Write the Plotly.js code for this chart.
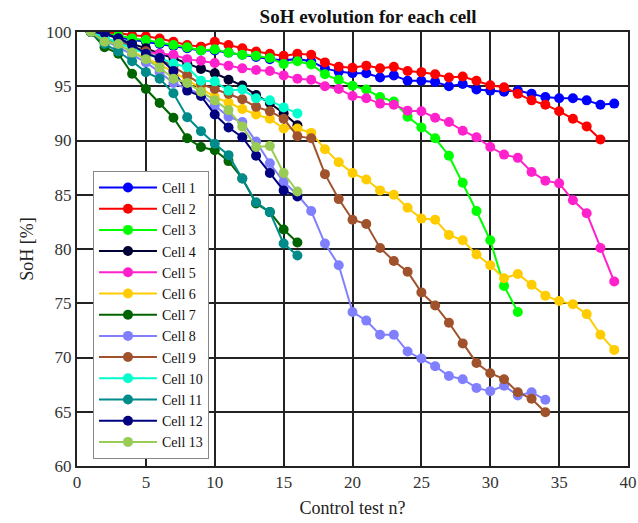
<!DOCTYPE html>
<html>
<head>
<meta charset="utf-8">
<script src="https://cdn.plot.ly/plotly-3.0.1.min.js"></script>
<style>html,body{margin:0;padding:0;background:#fff;}#chart{width:638px;height:523px;}</style>
</head>
<body>
<div id="chart"></div>
<script>
const cellNames = ["Cell 1","Cell 2","Cell 3","Cell 4","Cell 5","Cell 6","Cell 7","Cell 8","Cell 9","Cell 10","Cell 11","Cell 12","Cell 13"];
const cellColors = ["#0000ff","#ff0000","#00ff00","#000033","#ff22cc","#ffcc00","#006400","#8080ff","#a0522d","#00ffcc","#008b8b","#000080","#99cc55"];

const cell1 = [100,99.8,99.5,99.3,99.1,98.9,98.7,98.5,98.3,98.3,98.1,97.9,97.7,97.5,97.4,97.5,97.3,96.65,96.35,96.2,96.2,95.8,96.0,95.5,95.5,95.4,95.0,95.2,94.7,94.6,94.5,94.6,94.3,94.0,93.9,93.9,93.7,93.3,93.4];
const cell2 = [100,99.9,99.9,99.7,99.6,99.4,99.1,98.8,98.65,99.1,98.8,98.5,98.2,98.0,97.8,98.0,97.9,97.2,96.8,96.7,96.9,96.65,96.8,96.4,96.3,96.1,95.8,95.9,95.5,95.1,94.9,94.3,93.7,93.3,92.7,92.0,91.3,90.1];
const cell3 = [100,99.8,99.7,99.4,99.26,99.0,98.8,98.6,98.3,98.4,98.1,97.9,97.8,97.6,97.05,97.3,97.0,96.1,95.6,95.05,94.7,94.0,93.6,92.2,91.2,90.2,88.6,86.1,83.5,80.8,76.6,74.2];
const cell4 = [100,99.8,99.4,98.9,98.5,98.0,97.6,97.1,96.6,96.2,95.6,95.06,94.2,93.45,92.5,91.4];
const cell5 = [100,99.4,99.0,98.6,98.2,98.0,97.9,97.5,97.35,97.15,96.9,96.65,96.5,96.4,96.0,95.7,95.6,95.0,94.75,94.1,93.9,93.4,93.3,92.75,92.7,92.1,91.7,90.9,90.3,89.4,88.7,88.4,87.1,86.3,86.05,84.5,83.3,80.1,77.0];
const cell6 = [100,99.3,98.8,98.2,97.6,97.0,96.3,95.6,94.8,94.0,93.5,92.9,92.4,92.0,91.1,91.1,90.7,89.2,88.0,87.0,86.4,85.4,85.0,83.8,82.8,82.7,81.3,80.8,79.5,78.5,77.3,77.7,76.7,75.7,75.2,74.9,74.0,72.1,70.7];
const cell7 = [100,98.6,98.0,96.15,94.75,93.45,92.1,90.2,89.4,89.1,88.1,86.5,84.2,83.4,81.8,80.6];
const cell8 = [100,99.2,98.6,97.9,97.2,96.3,95.3,94.75,94.3,93.2,92.2,91.7,89.9,87.9,86.2,85.0,83.5,80.5,78.5,74.2,73.4,72.1,72.1,70.55,69.9,69.2,68.3,68.0,67.2,66.9,67.4,66.5,66.8,66.1];
const cell9 = [100,99.3,99.1,98.7,98.2,97.5,96.8,96.0,95.2,94.75,94.3,93.8,93.1,92.7,92.0,90.4,90.2,86.9,84.6,82.7,82.3,80.1,78.9,77.9,76.0,74.8,73.2,71.3,69.5,68.55,68.0,66.8,66.2,64.95];
const cell10 = [100,99.5,99.0,98.5,98.0,97.6,97.1,96.75,95.5,95.45,94.6,94.7,93.9,93.7,93.05,92.5];
const cell11 = [100,98.9,98.2,97.3,96.3,95.7,94.35,92.15,90.85,89.7,88.65,86.5,84.3,83.4,80.5,79.4];
const cell12 = [100,99.9,99.4,98.8,98.0,97.6,96.4,94.6,94.1,92.4,91.2,90.3,88.6,87.0,85.4,84.85];
const cell13 = [100,99.1,98.9,98.1,97.5,96.7,95.7,95.3,94.5,93.7,92.8,91.3,89.4,89.5,87.0,85.3];

const allCells = [cell1,cell2,cell3,cell4,cell5,cell6,cell7,cell8,cell9,cell10,cell11,cell12,cell13];
const xTicks = [0,5,10,15,20,25,30,35,40];
const yTicks = [60,65,70,75,80,85,90,95,100];

const traces = allCells.map((vals, i) => ({
  type: 'scatter',
  mode: 'lines+markers',
  name: cellNames[i],
  x: vals.map((v, k) => k + 1),
  y: vals,
  line: {color: cellColors[i], width: 2},
  marker: {color: cellColors[i], size: 10}
}));

const fontFam = '"Liberation Serif", "DejaVu Serif", serif';
const layout = {
  width: 638, height: 523,
  margin: {l: 77, r: 10, t: 32, b: 57},
  paper_bgcolor: '#fff', plot_bgcolor: '#fff',
  font: {family: fontFam, color: '#222', size: 15},
  title: {text: '<b>SoH evolution for each cell</b>', x: 0.577, xanchor: 'center', y: 0.968, yanchor: 'middle', font: {family: fontFam, size: 19, color: '#111'}},
  showlegend: true,
  legend: {
    x: 0.029, y: 0.68, xanchor: 'left', yanchor: 'top',
    bgcolor: '#fff', bordercolor: '#888', borderwidth: 1,
    font: {family: fontFam, size: 14, color: '#111'},
    itemwidth: 58, tracegroupgap: 0
  },
  xaxis: {
    range: [0, 40], tickvals: xTicks, ticktext: xTicks.map(String),
    showgrid: true, gridcolor: '#222', gridwidth: 2,
    showline: true, linecolor: '#222', linewidth: 2, mirror: true,
    zeroline: false, ticks: '', tickfont: {size: 17, color: '#333'},
    title: {text: 'Control test n?', font: {size: 18, color: '#222'}, standoff: 10}
  },
  yaxis: {
    range: [60, 100], tickvals: yTicks, ticktext: yTicks.map(String),
    showgrid: true, gridcolor: '#222', gridwidth: 2,
    showline: true, linecolor: '#222', linewidth: 2, mirror: true,
    zeroline: false, ticks: '', tickfont: {size: 17, color: '#333'},
    title: {text: 'SoH [%]', font: {size: 18, color: '#222'}, standoff: 8}
  }
};

Plotly.newPlot('chart', traces, layout, {displayModeBar: false, staticPlot: true});
</script>
</body>
</html>
